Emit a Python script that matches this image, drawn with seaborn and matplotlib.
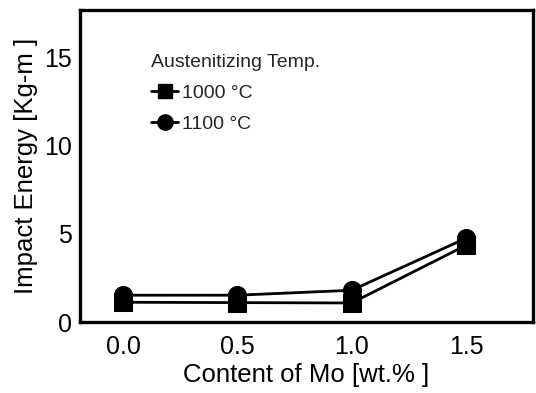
import matplotlib
matplotlib.use("Agg")
import matplotlib.pyplot as plt
import seaborn as sns
import pandas as pd
from matplotlib.lines import Line2D

mo_content = [0.0, 0.5, 1.0, 1.5]
energy_1000 = [1.12, 1.1, 1.08, 4.35]
energy_1100 = [1.52, 1.52, 1.8, 4.75]
series_labels = ["1000 °C", "1100 °C"]
x_ticks = [0.0, 0.5, 1.0, 1.5]
y_ticks = [0, 5, 10, 15]

df = pd.DataFrame({
    "mo": mo_content * 2,
    "energy": energy_1000 + energy_1100,
    "temp": [series_labels[0]] * 4 + [series_labels[1]] * 4,
})

sns.set_theme(style="white")
plt.rcParams["font.family"] = ["Liberation Sans", "DejaVu Sans"]

fig = plt.figure(figsize=(5.36, 3.93), dpi=100)
ax = fig.add_axes([80/536, 1-322/393, (533-80)/536, (322-10)/393])

sns.lineplot(data=df, x="mo", y="energy", style="temp",
             markers={series_labels[0]: "s", series_labels[1]: "o"},
             dashes=False, color="black", markersize=13, linewidth=2.0,
             markeredgecolor="black", ax=ax, legend=False)

ax.set_xlim(-0.188, 1.793)
ax.set_ylim(0, 17.7)
ax.set_xticks(x_ticks)
ax.set_xticklabels([f"{v:.1f}" for v in x_ticks])
ax.set_yticks(y_ticks)
ax.set_yticklabels([str(v) for v in y_ticks])
ax.tick_params(direction="in", length=4, width=2.5, labelsize=18, colors="black")
ax.tick_params(axis="x", pad=9)
ax.tick_params(axis="y", pad=6)
for s in ax.spines.values():
    s.set_visible(True)
    s.set_linewidth(2.4)
    s.set_color("black")

ax.set_xlabel("Content of Mo [wt.% ]", fontsize=18.5, color="black", labelpad=3)
ax.set_ylabel("Impact Energy [Kg-m ]", fontsize=18.5, color="black", labelpad=4)

handles = [
    Line2D([], [], color="black", marker="s", markersize=10, linewidth=2.0, label=series_labels[0]),
    Line2D([], [], color="black", marker="o", markersize=11, linewidth=2.0, label=series_labels[1]),
]
leg = ax.legend(handles=handles, title="Austenitizing Temp.", frameon=False,
                loc="upper left", bbox_to_anchor=(0.14, 0.885), fontsize=14,
                title_fontsize=14, handlelength=1.4, handletextpad=0.2,
                labelspacing=0.7, alignment="left", borderaxespad=0)

fig.savefig("out.png", dpi=100, facecolor="white")
